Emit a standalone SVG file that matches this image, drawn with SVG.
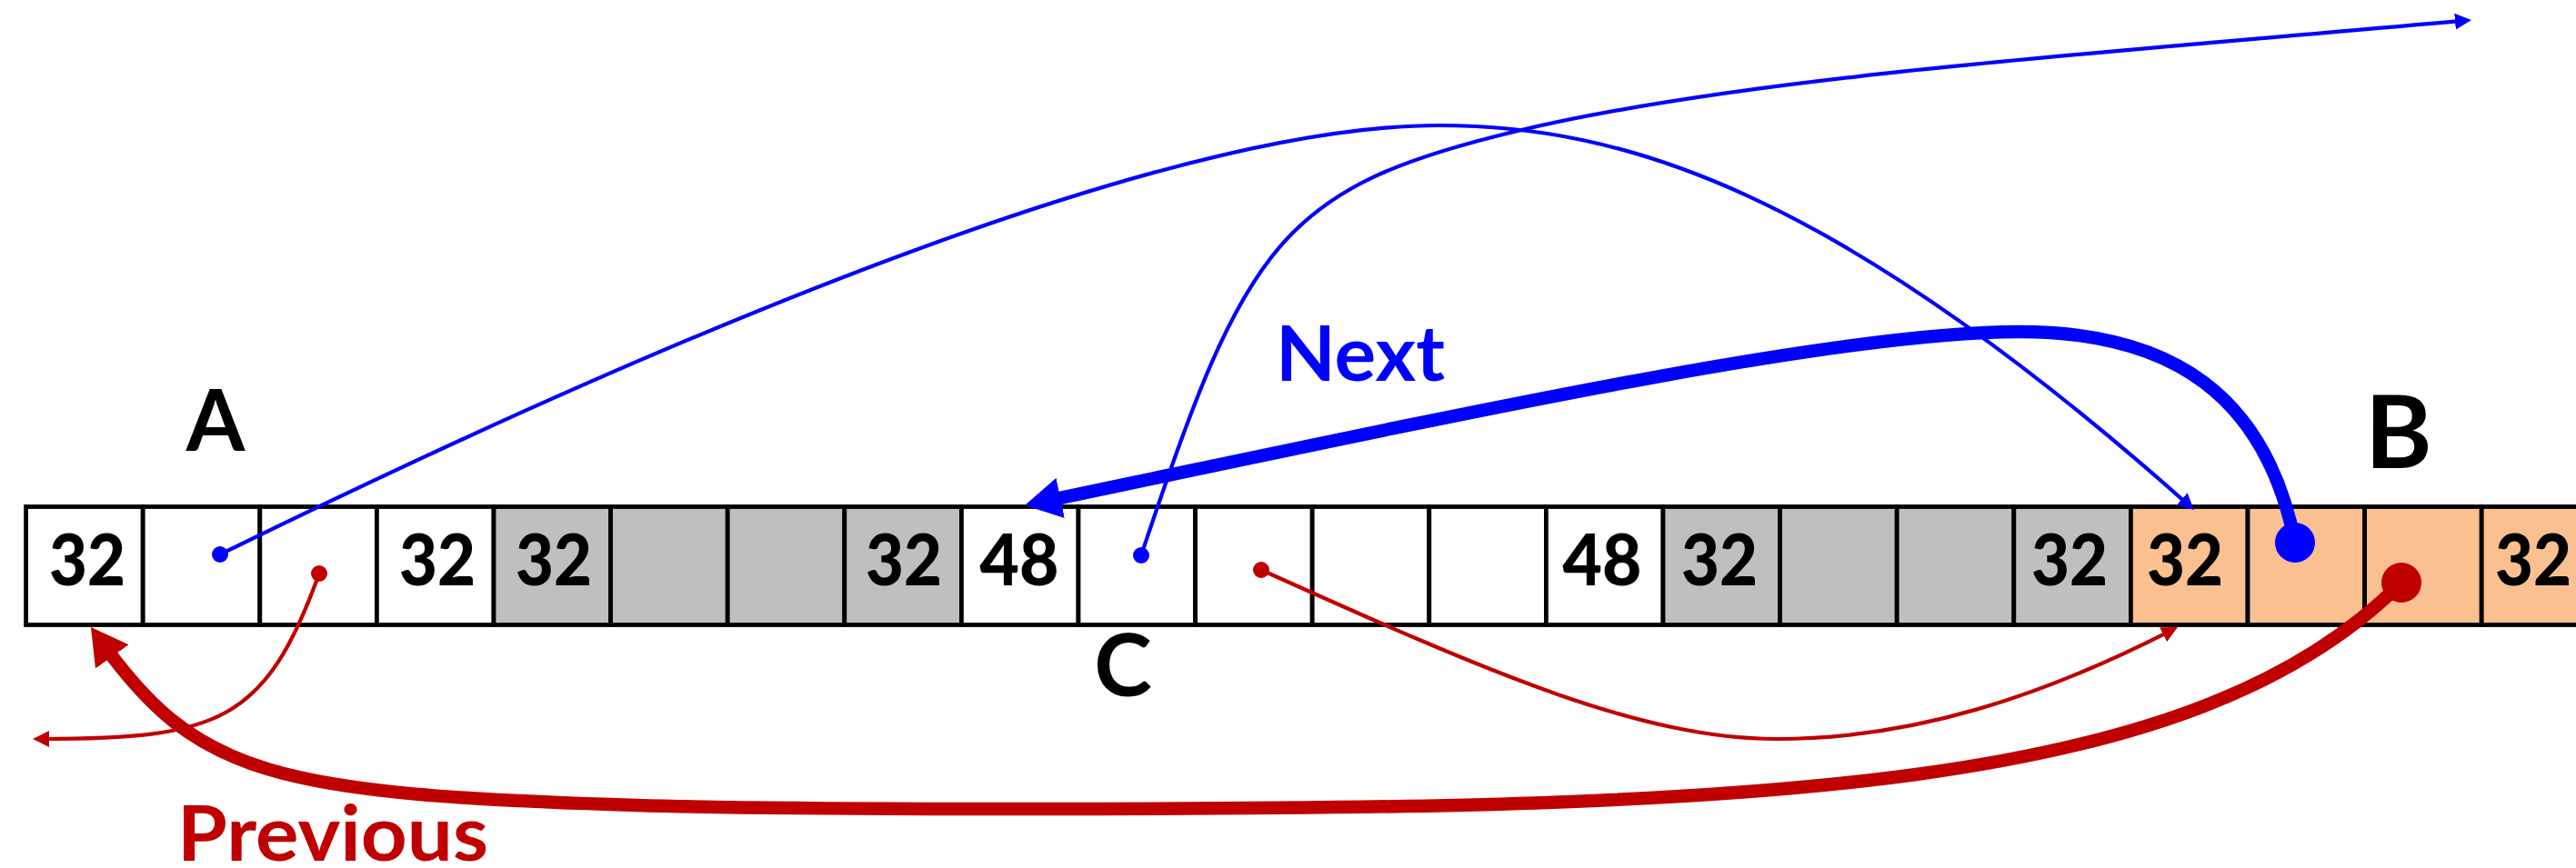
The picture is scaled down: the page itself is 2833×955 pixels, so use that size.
<svg xmlns="http://www.w3.org/2000/svg" width="2833" height="955" viewBox="0 0 2833 955">
<style>
.cell{stroke:#000;stroke-width:4.8}
.w{fill:#FFFFFF}
.g{fill:#BFBFBF}
.o{fill:#FAC090}
.num{font-family:Lato,"Liberation Sans",sans-serif;font-weight:900;font-size:79px;fill:#000;text-anchor:middle}
.lbl{font-family:Lato,"Liberation Sans",sans-serif;font-weight:bold;fill:#000;text-anchor:middle}
.thinB{fill:none;stroke:#0000FF;stroke-width:4.2}
.thinR{fill:none;stroke:#C00000;stroke-width:4.2}
.thickB{fill:none;stroke:#0000FF;stroke-width:14.5}
.thickR{fill:none;stroke:#C00000;stroke-width:14.5}
</style>
<defs>
<marker id="aTB" markerUnits="userSpaceOnUse" viewBox="0 0 18 18" refX="10" refY="9" markerWidth="18" markerHeight="18" orient="auto"><path d="M0,0 L18,9 L0,18 z" fill="#0000FF"/></marker>
<marker id="aTR" markerUnits="userSpaceOnUse" viewBox="0 0 18 18" refX="10" refY="9" markerWidth="18" markerHeight="18" orient="auto"><path d="M0,0 L18,9 L0,18 z" fill="#C00000"/></marker>
<marker id="aKB" markerUnits="userSpaceOnUse" viewBox="0 0 40 45" refX="20" refY="22.5" markerWidth="40" markerHeight="45" orient="auto"><path d="M0,0 L40,22.5 L0,45 z" fill="#0000FF"/></marker>
<marker id="aKR" markerUnits="userSpaceOnUse" viewBox="0 0 40 45" refX="20" refY="22.5" markerWidth="40" markerHeight="45" orient="auto"><path d="M0,0 L40,22.5 L0,45 z" fill="#C00000"/></marker>
<marker id="dSB" markerUnits="userSpaceOnUse" viewBox="-10 -10 20 20" refX="0" refY="0" markerWidth="20" markerHeight="20"><circle r="9" fill="#0000FF"/></marker>
<marker id="dSR" markerUnits="userSpaceOnUse" viewBox="-10 -10 20 20" refX="0" refY="0" markerWidth="20" markerHeight="20"><circle r="9" fill="#C00000"/></marker>
<marker id="dBB" markerUnits="userSpaceOnUse" viewBox="-23 -23 46 46" refX="0" refY="0" markerWidth="46" markerHeight="46"><circle r="22" fill="#0000FF"/></marker>
<marker id="dBR" markerUnits="userSpaceOnUse" viewBox="-23 -23 46 46" refX="0" refY="0" markerWidth="46" markerHeight="46"><circle r="22" fill="#C00000"/></marker>
</defs>
<rect width="2833" height="955" fill="#FFFFFF"/>
<g id="cells">
<g id="cell0"><rect class="cell w" x="28.6" y="557.5" width="128.6" height="130"/><text class="num" x="96" y="644" textLength="84" lengthAdjust="spacingAndGlyphs">32</text></g>
<g id="cell1"><rect class="cell w" x="157.2" y="557.5" width="128.6" height="130"/></g>
<g id="cell2"><rect class="cell w" x="285.8" y="557.5" width="128.6" height="130"/></g>
<g id="cell3"><rect class="cell w" x="414.4" y="557.5" width="128.6" height="130"/><text class="num" x="481" y="644" textLength="84" lengthAdjust="spacingAndGlyphs">32</text></g>
<g id="cell4"><rect class="cell g" x="543.0" y="557.5" width="128.6" height="130"/><text class="num" x="609" y="644" textLength="84" lengthAdjust="spacingAndGlyphs">32</text></g>
<g id="cell5"><rect class="cell g" x="671.6" y="557.5" width="128.6" height="130"/></g>
<g id="cell6"><rect class="cell g" x="800.2" y="557.5" width="128.6" height="130"/></g>
<g id="cell7"><rect class="cell g" x="928.8" y="557.5" width="128.6" height="130"/><text class="num" x="994" y="644" textLength="84" lengthAdjust="spacingAndGlyphs">32</text></g>
<g id="cell8"><rect class="cell w" x="1057.4" y="557.5" width="128.6" height="130"/><text class="num" x="1121" y="644" textLength="87" lengthAdjust="spacingAndGlyphs">48</text></g>
<g id="cell9"><rect class="cell w" x="1186.0" y="557.5" width="128.6" height="130"/></g>
<g id="cell10"><rect class="cell w" x="1314.6" y="557.5" width="128.6" height="130"/></g>
<g id="cell11"><rect class="cell w" x="1443.2" y="557.5" width="128.6" height="130"/></g>
<g id="cell12"><rect class="cell w" x="1571.8" y="557.5" width="128.6" height="130"/></g>
<g id="cell13"><rect class="cell w" x="1700.4" y="557.5" width="128.6" height="130"/><text class="num" x="1762" y="644" textLength="87" lengthAdjust="spacingAndGlyphs">48</text></g>
<g id="cell14"><rect class="cell g" x="1829.0" y="557.5" width="128.6" height="130"/><text class="num" x="1891" y="644" textLength="84" lengthAdjust="spacingAndGlyphs">32</text></g>
<g id="cell15"><rect class="cell g" x="1957.6" y="557.5" width="128.6" height="130"/></g>
<g id="cell16"><rect class="cell g" x="2086.2" y="557.5" width="128.6" height="130"/></g>
<g id="cell17"><rect class="cell g" x="2214.8" y="557.5" width="128.6" height="130"/><text class="num" x="2276" y="644" textLength="84" lengthAdjust="spacingAndGlyphs">32</text></g>
<g id="cell18"><rect class="cell o" x="2343.4" y="557.5" width="128.6" height="130"/><text class="num" x="2403" y="644" textLength="84" lengthAdjust="spacingAndGlyphs">32</text></g>
<g id="cell19"><rect class="cell o" x="2472.0" y="557.5" width="128.6" height="130"/></g>
<g id="cell20"><rect class="cell o" x="2600.6" y="557.5" width="128.6" height="130"/></g>
<g id="cell21"><rect class="cell o" x="2729.2" y="557.5" width="128.6" height="130"/><text class="num" x="2786" y="644" textLength="84" lengthAdjust="spacingAndGlyphs">32</text></g>
</g>
<g id="labelA"><text class="lbl" x="237" y="496" font-size="93">A</text></g>
<g id="labelB"><text class="lbl" x="2638" y="515" font-size="112">B</text></g>
<g id="labelC"><text class="lbl" x="1235" y="766" font-size="96">C</text></g>
<g id="connectors">
<path class="thinB" d="M242,610 C792,340.5 1300,138 1582,138 C1782,138 2013,205 2407,555.7" marker-start="url(#dSB)" marker-end="url(#aTB)"/>
<path class="thinB" d="M1255,611 C1370,266 1409,206 1669,144 C1919,84 2318,58 2710,22.7" marker-start="url(#dSB)" marker-end="url(#aTB)"/>
<path class="thinR" d="M351,631 C292,795 240,813 44,813" marker-start="url(#dSR)" marker-end="url(#aTR)"/>
<path class="thinR" d="M1387,627 C1637,739.5 1804,813 1954,813 C2104,813 2245,766.5 2387.9,693.6" marker-start="url(#dSR)" marker-end="url(#aTR)"/>
<path class="thickB" d="M2524,597 C2492,437 2391,365 2221,365 C2021,365 1627,451 1146.6,552" marker-start="url(#dBB)" marker-end="url(#aKB)"/>
<path class="thickR" d="M2641,641 C2411,871 1950,890 1150,890 C1000,890 850,890.5 700,886 C300,874 216.7,852.4 111.6,706.2" marker-start="url(#dBR)" marker-end="url(#aKR)"/>
</g>
<g id="labelNext"><text x="1403" y="419" font-family="Lato,'Liberation Sans',sans-serif" font-weight="bold" font-size="85" fill="#0000FF" textLength="186" lengthAdjust="spacingAndGlyphs">Next</text></g>
<g id="labelPrevious"><text x="195" y="947" font-family="Lato,'Liberation Sans',sans-serif" font-weight="bold" font-size="84" fill="#C00000" textLength="342" lengthAdjust="spacingAndGlyphs">Previous</text></g>
</svg>
